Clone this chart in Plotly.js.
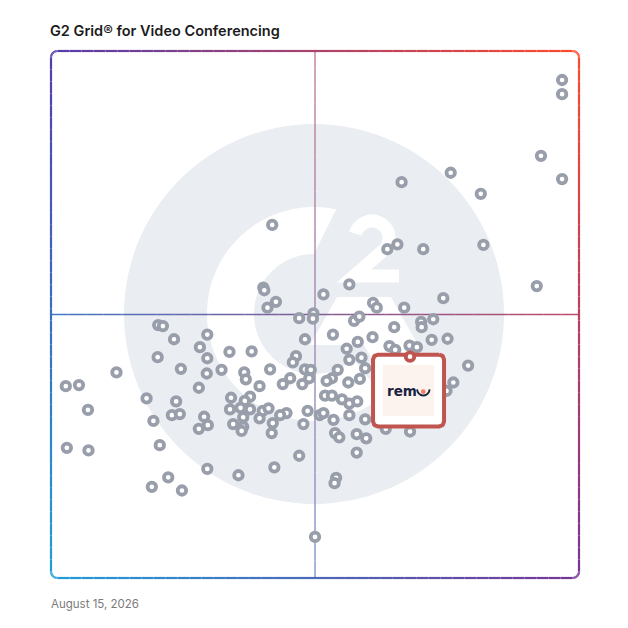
<!DOCTYPE html>
<html><head><meta charset="utf-8">
<script src="https://cdn.plot.ly/plotly-3.0.1.min.js"></script>
<style>html,body{margin:0;padding:0;background:#fff}#chart{width:628px;height:628px}</style>
</head><body><div id="chart"></div>
<script>
// ---- DATA (scores on a 0-100 scale) ----
const chartTitle = 'G2 Grid® for Video Conferencing';
const dateLabel = 'August 15, 2026';
const satisfaction = [75.7,66.4,81.4,41.9,63.7,65.6,70.5,81.9,56.5,40.2,40.4,51.6,42.6,41.0,61.0,61.7,66.9,74.3,49.7,47.0,
 49.6,57.4,58.4,70.1,70.2,72.4,65.0,20.3,21.2,23.3,29.6,28.2,29.6,33.8,38.0,48.1,53.4,58.1,60.9,72.1,
 75.1,56.0,64.1,67.9,69.3,65.2,20.2,12.4,24.6,29.5,32.3,36.6,36.9,41.5,46.4,45.8,48.1,49.2,43.9,45.3,
 47.6,48.9,39.5,28.0,56.5,58.8,59.5,54.3,53.2,52.2,56.3,58.5,79.0,76.2,74.9,18.1,23.7,22.9,24.4,19.4,
 20.6,34.1,37.7,36.7,33.9,35.9,37.7,40.1,41.2,44.6,43.4,48.6,50.9,51.6,51.9,53.2,55.1,56.5,58.0,56.5,
 53.5,59.5,36.4,39.5,42.0,47.8,29.0,29.7,28.0,34.5,36.4,36.1,41.8,53.8,54.6,57.9,59.7,63.4,68.0,57.9,
 47.0,29.6,35.5,42.3,54.0,53.7,22.2,19.1,24.8,2.8,5.3,7.0,3.0,7.1,96.8,96.8,92.8,96.8,92.0,50.0];
const marketPresence = [76.9,75.1,72.9,67.0,62.4,63.3,62.4,63.2,55.7,55.1,54.6,53.8,52.4,51.3,52.2,51.3,51.3,53.1,50.2,49.3,
 49.2,48.8,49.6,48.6,47.6,49.1,47.6,48.0,47.8,45.3,46.2,43.8,41.7,42.9,43.0,45.3,46.2,44.8,45.7,45.2,
 45.4,43.5,44.0,44.1,43.8,43.3,41.9,39.0,39.7,38.8,39.5,39.0,37.7,39.6,42.1,40.9,39.6,39.5,36.8,37.9,
 36.8,37.9,36.4,36.1,41.4,41.8,39.8,39.5,37.9,37.4,37.1,37.8,40.3,37.1,35.5,34.1,33.5,30.9,31.1,29.8,
 25.2,34.2,34.4,33.6,32.0,32.3,32.0,31.7,32.2,31.3,30.9,31.7,30.9,31.3,34.6,34.6,33.9,33.1,33.5,30.9,
 30.0,30.1,30.5,30.3,29.4,29.2,30.6,29.0,28.3,29.2,28.7,27.9,27.5,27.5,26.7,27.3,26.5,28.3,27.8,23.8,
 23.2,20.7,19.5,21.0,19.0,18.0,19.1,17.3,16.6,36.4,36.6,31.9,24.7,24.2,94.5,91.8,80.1,75.7,55.4,7.8];
const featuredName = ['remo'];
const featuredSatisfaction = [68.0];
const featuredPresence = [42.0];

// ---- GEOMETRY HELPERS (pixels of the 628x628 page) ----
const L = 51, R = 579, T = 51, B = 578, W = R - L, H = B - T;
const PX = p => (p - L) / W;          // pixel x -> paper
const PY = p => (B - p) / H;          // pixel y -> paper
const DX = d => L + d / 100 * W;      // data x -> pixel
const DY = d => B - d / 100 * H;      // data y -> pixel
const toDX = p => (p - L) / W * 100;  // pixel x -> data
const toDY = p => (B - p) / H * 100;  // pixel y -> data
const rgb = c => 'rgb(' + c.map(v => Math.round(v)).join(',') + ')';
const mix = (a, b, t) => a.map((v, i) => v + (b[i] - v) * t);
function pathFrom(pts, close) {
  return pts.map((p, i) => (i ? 'L' : 'M') + PX(p[0]).toFixed(5) + ',' + PY(p[1]).toFixed(5)).join(' ') + (close ? ' Z' : '');
}
function arcPts(cx, cy, r, a0, a1, step) {
  const pts = []; const n = Math.max(2, Math.ceil(Math.abs(a1 - a0) / step));
  for (let i = 0; i <= n; i++) { const a = (a0 + (a1 - a0) * i / n) * Math.PI / 180; pts.push([cx + r * Math.cos(a), cy - r * Math.sin(a)]); }
  return pts;
}
function roundedRect(x0, y0, x1, y1, r) {
  let pts = [];
  pts = pts.concat(arcPts(x1 - r, y0 + r, r, 90, 0, 10));
  pts = pts.concat(arcPts(x1 - r, y1 - r, r, 0, -90, 10));
  pts = pts.concat(arcPts(x0 + r, y1 - r, r, -90, -180, 10));
  pts = pts.concat(arcPts(x0 + r, y0 + r, r, 180, 90, 10));
  pts.push(pts[0]);
  return pts;
}
function subdivide(pts, maxLen) {
  const out = [pts[0]];
  for (let i = 1; i < pts.length; i++) {
    const a = pts[i - 1], b = pts[i]; const d = Math.hypot(b[0] - a[0], b[1] - a[1]);
    const n = Math.max(1, Math.ceil(d / maxLen));
    for (let k = 1; k <= n; k++) out.push([a[0] + (b[0] - a[0]) * k / n, a[1] + (b[1] - a[1]) * k / n]);
  }
  return out;
}

const shapes = [];
// ---- G2 watermark ----
const cx = 314, cy = 314;
shapes.push({type:'circle', xref:'paper', yref:'paper', layer:'below', x0:PX(cx-190), x1:PX(cx+190), y0:PY(cy+190), y1:PY(cy-190), fillcolor:'#eaedf1', line:{width:0}});
const ring = arcPts(cx, cy, 107, 78, 310, 2).concat(arcPts(cx, cy, 60, 311, 90, 2));
shapes.push({type:'path', xref:'paper', yref:'paper', layer:'below', path:pathFrom(ring, true), fillcolor:'#ffffff', line:{width:0}});
const chevron = [[337,297],[391,297],[418,345],[391,392],[364,345],[310,345]];
shapes.push({type:'path', xref:'paper', yref:'paper', layer:'below', path:pathFrom(chevron, true), fillcolor:'#ffffff', line:{width:0}});
const two = arcPts(372, 238, 17, 165, -40, 5).concat([[354,276],[399,276]]);
shapes.push({type:'path', xref:'paper', yref:'paper', layer:'below', path:pathFrom(two, false), fillcolor:'rgba(0,0,0,0)', line:{color:'#ffffff', width:13}});

// ---- border gradient colours ----
const cTL = [84,60,172], cTR = [255,74,44], cBL = [32,158,218], cBR = [118,52,150];
const bilin = (x, y) => { const u = Math.min(1, Math.max(0, (x - L) / W)), v = Math.min(1, Math.max(0, (y - T) / H));
  return mix(mix(cTL, cTR, u), mix(cBL, cBR, u), v); };

// ---- quadrant lines ----
const vSeg = 30;
for (let i = 0; i < vSeg; i++) {
  const y0 = T + H * i / vSeg, y1 = T + H * (i + 1) / vSeg;
  const col = mix(bilin(L + W / 2, (y0 + y1) / 2), [255,255,255], 0.3);
  shapes.push({type:'line', xref:'paper', yref:'paper', layer:'below', x0:0.5, x1:0.5, y0:PY(y0), y1:PY(y1), line:{color:rgb(col), width:1.4}});
}
for (let i = 0; i < vSeg; i++) {
  const x0 = L + W * i / vSeg, x1 = L + W * (i + 1) / vSeg;
  const col = mix(bilin((x0 + x1) / 2, T + H / 2), [255,255,255], 0.05);
  shapes.push({type:'line', xref:'paper', yref:'paper', layer:'below', x0:PX(x0), x1:PX(x1), y0:0.5, y1:0.5, line:{color:rgb(col), width:1.5}});
}
// ---- gradient frame ----
const frame = subdivide(roundedRect(L, T, R, B, 6.5), 12);
for (let i = 1; i < frame.length; i++) {
  const a = frame[i - 1], b = frame[i];
  const col = bilin((a[0] + b[0]) / 2, (a[1] + b[1]) / 2);
  shapes.push({type:'path', xref:'paper', yref:'paper', layer:'below', path:pathFrom([a, b], false), line:{color:rgb(col), width:2.2}});
}

// ---- featured callout (built from the featured point) ----
const fx = DX(featuredSatisfaction[0]), fy = DY(featuredPresence[0]);
const boxPts = roundedRect(fx - 37, fy - 2, fx + 34, fy + 69.8, 5);
const boxX = boxPts.map(p => toDX(p[0])), boxY = boxPts.map(p => toDY(p[1]));
shapes.push({type:'rect', xref:'paper', yref:'paper', layer:'above', x0:PX(fx - 27.3), x1:PX(fx + 24), y0:PY(fy + 59.3), y1:PY(fy + 8.3), fillcolor:'#fdf3ee', line:{width:0}});
const smile = arcPts(fx + 13.3, fy + 32.6, 6.2, 180, 360, 15);
shapes.push({type:'path', xref:'paper', yref:'paper', layer:'above', path:pathFrom(smile, false), fillcolor:'rgba(0,0,0,0)', line:{color:'#18213e', width:1.9}});
shapes.push({type:'circle', xref:'paper', yref:'paper', layer:'above', x0:PX(fx + 10.8), x1:PX(fx + 15.6), y0:PY(fy + 37.4), y1:PY(fy + 32.6), fillcolor:'#f47e6a', line:{width:0}});

const traces = [
  {type:'scatter', mode:'markers', x:satisfaction, y:marketPresence, cliponaxis:false, hoverinfo:'skip',
   marker:{size:8.5, color:'#ffffff', line:{color:'#999eab', width:3.8}}},
  {type:'scatter', mode:'lines', x:boxX, y:boxY, fill:'toself', fillcolor:'#ffffff', hoverinfo:'skip', cliponaxis:false,
   line:{color:'#c0544f', width:4}},
  {type:'scatter', mode:'markers', x:featuredSatisfaction, y:featuredPresence, text:featuredName, cliponaxis:false, hoverinfo:'text',
   marker:{size:8.5, color:'#ffffff', line:{color:'#c0544f', width:3.8}}}
];

const layout = {
  width:628, height:628, showlegend:false,
  margin:{l:L, r:628 - R, t:T, b:628 - B, pad:0},
  paper_bgcolor:'#ffffff', plot_bgcolor:'rgba(0,0,0,0)',
  xaxis:{range:[0,100], visible:false, fixedrange:true},
  yaxis:{range:[0,100], visible:false, fixedrange:true},
  title:{text:chartTitle, xref:'container', yref:'container', x:50/628, xanchor:'left', y:1 - 30.5/628, yanchor:'middle',
         font:{family:'Inter, Roboto, sans-serif', size:14.5, weight:600, color:'#1c1c1c'}},
  shapes:shapes,
  annotations:[
    {text:dateLabel, xref:'paper', yref:'paper', x:PX(48.5), y:PY(604), xanchor:'left', yanchor:'middle', showarrow:false,
     font:{family:'Inter, Roboto, sans-serif', size:11.5, color:'#7b7b7b'}},
    {text:'rem', xref:'paper', yref:'paper', x:PX(fx - 25.5), y:PY(fy + 34), xanchor:'left', yanchor:'middle', showarrow:false,
     font:{family:'DejaVu Sans, sans-serif', size:13.5, weight:'bold', color:'#18213e'}}
  ]
};
Plotly.newPlot('chart', traces, layout, {staticPlot:true, displayModeBar:false});
</script></body></html>
